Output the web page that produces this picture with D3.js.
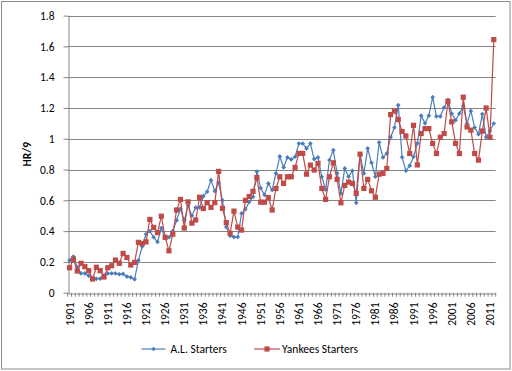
<!DOCTYPE html>
<html>
<head>
<meta charset="utf-8">
<script src="https://cdn.jsdelivr.net/npm/d3@7"></script>
<style>
  body { margin: 0; background: #fff; }
  svg { display: block; }
</style>
</head>
<body>
<script>
let years = d3.range(1901, 2013);

let alStarters = [
  0.21, 0.235, 0.165, 0.125, 0.125, 0.11, 0.088, 0.09, 0.092, 0.112,
  0.125, 0.125, 0.125, 0.12, 0.122, 0.105, 0.1, 0.087, 0.21, 0.3,
  0.38, 0.4, 0.36, 0.33, 0.42, 0.355, 0.36, 0.4, 0.47, 0.545,
  0.47, 0.565, 0.5, 0.553, 0.553, 0.627, 0.656, 0.731, 0.66, 0.715,
  0.6, 0.426, 0.37, 0.362, 0.362, 0.515, 0.542, 0.59, 0.623, 0.787,
  0.68, 0.635, 0.71, 0.667, 0.775, 0.885, 0.814, 0.879, 0.866, 0.883,
  0.969, 0.969, 0.937, 0.969, 0.868, 0.879, 0.753, 0.67, 0.862, 0.926,
  0.775, 0.645, 0.807, 0.753, 0.792, 0.584, 0.894, 0.775, 0.937, 0.844,
  0.753, 0.976, 0.879, 0.905, 1.01, 1.073, 1.218, 0.88, 0.792, 0.825,
  0.883, 0.97, 1.15, 1.1, 1.15, 1.27, 1.145, 1.145, 1.203, 1.252,
  1.164, 1.12, 1.164, 1.212, 1.099, 1.181, 1.073, 1.03, 1.16, 1.01,
  1.05, 1.099
];

let yankeesStarters = [
  0.162, 0.217, 0.141, 0.191, 0.169, 0.143, 0.089, 0.165, 0.143, 0.102,
  0.162, 0.175, 0.212, 0.191, 0.255, 0.229, 0.18, 0.197, 0.327, 0.32,
  0.33, 0.476, 0.424, 0.39, 0.497, 0.36, 0.272, 0.38, 0.537, 0.606,
  0.42, 0.59, 0.452, 0.472, 0.62, 0.547, 0.585, 0.554, 0.585, 0.788,
  0.548, 0.455, 0.385, 0.53, 0.426, 0.407, 0.6, 0.625, 0.658, 0.748,
  0.588, 0.588, 0.618, 0.537, 0.677, 0.753, 0.71, 0.753, 0.753, 0.814,
  0.905, 0.905, 0.77, 0.829, 0.797, 0.84, 0.677, 0.606, 0.753, 0.844,
  0.736, 0.584, 0.697, 0.719, 0.71, 0.645, 0.9, 0.677, 0.736, 0.662,
  0.62, 0.77, 0.775, 0.807, 1.157, 1.18, 1.125, 1.047, 1.018, 0.904,
  1.087, 0.83, 1.034, 1.066, 1.066, 0.97, 0.904, 1.01, 1.034, 1.243,
  1.11, 0.97, 0.904, 1.27, 1.077, 1.056, 0.904, 0.861, 1.05, 1.2,
  1.01, 1.644
];

let yTicks = [0, 0.2, 0.4, 0.6, 0.8, 1, 1.2, 1.4, 1.6, 1.8];
let xLabelYears = years.filter((d, i) => i % 5 == 0);
let seriesNames = ["A.L. Starters", "Yankees Starters"];

let w = 512;
let h = 371;
let plotLeft = 67.7, plotRight = 495.7, plotTop = 15.6, plotBottom = 292.7;
let gridColor = "#868686";
let font = "Carlito, Calibri, 'Liberation Sans', Arial, sans-serif";

const svg = d3.select("body")
    .append("svg")
    .attr("width", w)
    .attr("height", h);

// chart border
svg.append("rect")
    .attr("x", 1.5).attr("y", 1.5)
    .attr("width", w - 3.5).attr("height", h - 3.5)
    .attr("fill", "white")
    .attr("stroke", "#8a8a8a");

const xScale = d3.scaleBand()
    .domain(years)
    .range([plotLeft, plotRight])
    .padding(0);

const yScale = d3.scaleLinear()
    .domain([0, 1.8])
    .range([plotBottom, plotTop]);

const cx = (d) => xScale(d) + xScale.bandwidth() / 2;

// gridlines
svg.append("g")
    .selectAll("line")
    .data(yTicks.filter(d => d > 0))
    .enter()
    .append("line")
    .attr("x1", plotLeft).attr("x2", plotRight)
    .attr("y1", d => Math.round(yScale(d)) + 0.5)
    .attr("y2", d => Math.round(yScale(d)) + 0.5)
    .attr("stroke", gridColor)
    .attr("stroke-width", 1);

// y axis
const yAxis = d3.axisLeft(yScale)
    .tickValues(yTicks)
    .tickSize(5)
    .tickSizeOuter(0)
    .tickPadding(9)
    .tickFormat(d => d3.format("~g")(+d.toFixed(1)));

svg.append("g")
    .attr("transform", "translate(" + (Math.round(plotLeft) + 0.5) + ",0)")
    .call(yAxis)
    .call(g => g.selectAll("line").attr("stroke", gridColor))
    .call(g => g.select(".domain").attr("stroke", gridColor))
    .call(g => g.selectAll("text")
        .style("font-family", font)
        .style("font-size", "11.5px")
        .attr("fill", "#000"));

// x axis: ticks between categories
svg.append("g")
    .selectAll("line")
    .data(years.concat([2013]))
    .enter()
    .append("line")
    .attr("x1", d => (d == 2013 ? plotRight : xScale(d)))
    .attr("x2", d => (d == 2013 ? plotRight : xScale(d)))
    .attr("y1", plotBottom)
    .attr("y2", plotBottom + 4)
    .attr("stroke", gridColor);

const xAxis = d3.axisBottom(xScale)
    .tickValues(xLabelYears)
    .tickSize(0)
    .tickSizeOuter(0);

svg.append("g")
    .attr("transform", "translate(0," + (Math.round(plotBottom) + 0.5) + ")")
    .call(xAxis)
    .call(g => g.select(".domain").attr("stroke", gridColor))
    .call(g => g.selectAll("text")
        .attr("transform", "rotate(-90)")
        .attr("x", -9)
        .attr("y", 0)
        .attr("dy", "0.35em")
        .style("text-anchor", "end")
        .style("font-family", font)
        .style("font-size", "11.5px")
        .attr("fill", "#000"));

// y title
svg.append("text")
    .attr("transform", "translate(31," + (plotBottom + plotTop) / 2 + ") rotate(-90)")
    .attr("text-anchor", "middle")
    .style("font-family", font)
    .style("font-size", "11.5px")
    .style("font-weight", "bold")
    .text("HR/9");

const line = d3.line()
    .x((d, i) => cx(years[i]))
    .y(d => yScale(d));

// A.L. series
svg.append("path")
    .datum(alStarters)
    .attr("d", line)
    .attr("fill", "none")
    .attr("stroke", "#4a7ebb")
    .attr("stroke-width", 1.2);

svg.append("g")
    .selectAll("path")
    .data(alStarters)
    .enter()
    .append("path")
    .attr("d", d3.symbol(d3.symbolDiamond2, 14))
    .attr("transform", (d, i) => "translate(" + cx(years[i]) + "," + yScale(d) + ")")
    .attr("fill", "#4a7ebb");

// Yankees series
svg.append("path")
    .datum(yankeesStarters)
    .attr("d", line)
    .attr("fill", "none")
    .attr("stroke", "#be4b48")
    .attr("stroke-width", 1.2);

svg.append("g")
    .selectAll("rect")
    .data(yankeesStarters)
    .enter()
    .append("rect")
    .attr("x", (d, i) => cx(years[i]) - 2.6)
    .attr("y", d => yScale(d) - 2.6)
    .attr("width", 5.2)
    .attr("height", 5.2)
    .attr("fill", "#be4b48");

// legend
let legend = svg.append("g").attr("transform", "translate(0,349)");

legend.append("line")
    .attr("x1", 141.5).attr("x2", 165.5)
    .attr("stroke", "#4a7ebb").attr("stroke-width", 1.2);
legend.append("path")
    .attr("d", d3.symbol(d3.symbolDiamond2, 14))
    .attr("transform", "translate(153.5,0)")
    .attr("fill", "#4a7ebb");
legend.append("text")
    .attr("x", 170.5).attr("y", 0).attr("dy", "0.35em")
    .style("font-family", font).style("font-size", "11.5px")
    .text(seriesNames[0]);

legend.append("line")
    .attr("x1", 254).attr("x2", 280)
    .attr("stroke", "#be4b48").attr("stroke-width", 1.2);
legend.append("rect")
    .attr("x", 264.4).attr("y", -2.6)
    .attr("width", 5.2).attr("height", 5.2)
    .attr("fill", "#be4b48");
legend.append("text")
    .attr("x", 282).attr("y", 0).attr("dy", "0.35em")
    .style("font-family", font).style("font-size", "11.5px")
    .text(seriesNames[1]);
</script>
</body>
</html>
